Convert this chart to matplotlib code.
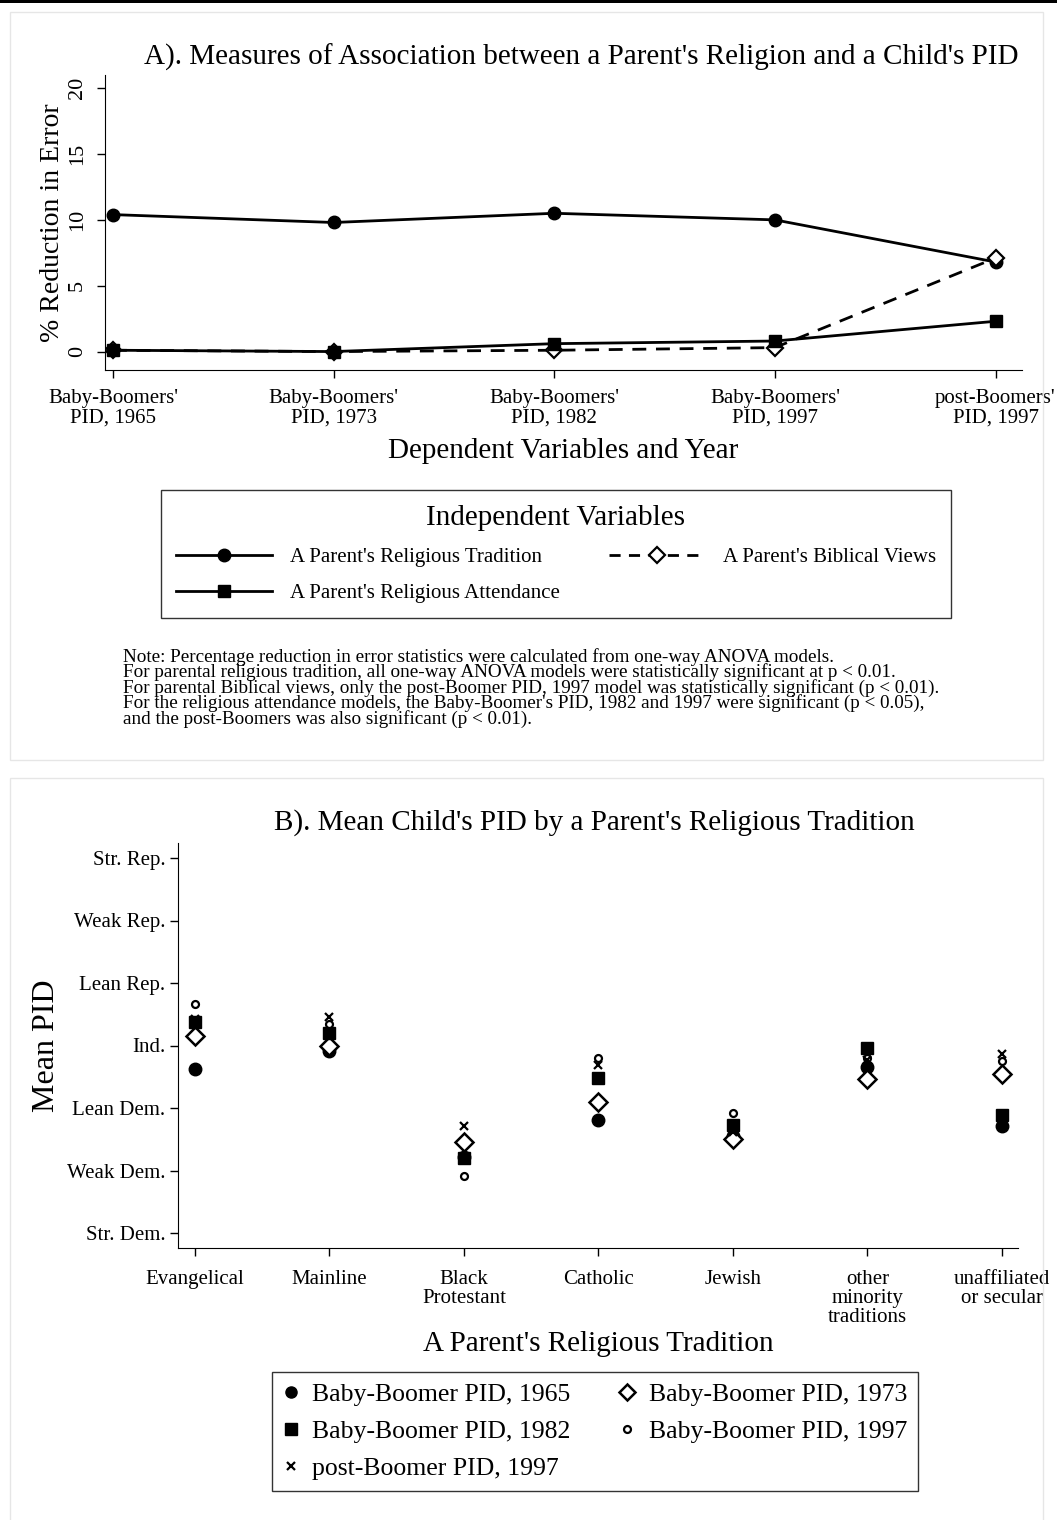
import matplotlib
matplotlib.use("Agg")
import matplotlib.pyplot as plt
from matplotlib.lines import Line2D
from matplotlib.patches import Rectangle

plt.rcParams['font.family'] = ['Liberation Serif', 'DejaVu Serif']

W, H = 1057, 1520

# ---- panel A data ----
dep_labels = ["Baby-Boomers'\nPID, 1965", "Baby-Boomers'\nPID, 1973", "Baby-Boomers'\nPID, 1982",
              "Baby-Boomers'\nPID, 1997", "post-Boomers'\nPID, 1997"]
tradition = [10.4, 9.8, 10.5, 10.0, 6.8]
attendance = [0.1, 0.0, 0.6, 0.8, 2.3]
biblical = [0.1, 0.0, 0.1, 0.3, 7.1]

# ---- panel B data ----
traditions = ["Evangelical", "Mainline", "Black\nProtestant", "Catholic", "Jewish",
              "other\nminority\ntraditions", "unaffiliated\nor secular"]
pid_labels = ["Str. Dem.", "Weak Dem.", "Lean Dem.", "Ind.", "Lean Rep.", "Weak Rep.", "Str. Rep."]
bb1965 = [2.63, 2.92, 1.22, 1.81, 1.56, 2.66, 1.71]
bb1973 = [3.15, 3.00, 1.46, 2.09, 1.51, 2.46, 2.55]
bb1982 = [3.38, 3.20, 1.20, 2.48, 1.73, 2.96, 1.89]
bb1997 = [3.66, 3.35, 0.91, 2.80, 1.92, 2.80, 2.75]
post1997 = [3.42, 3.46, 1.71, 2.69, 1.62, 2.77, 2.87]


def box(l, t, r, b):
    return [l / W, 1 - b / H, (r - l) / W, (b - t) / H]


fig = plt.figure(figsize=(W / 100, H / 100), dpi=100)
fig.patches.append(Rectangle((0, 1 - 3 / H), 1, 3 / H, transform=fig.transFigure,
                             facecolor='black', edgecolor='none'))
for t, b in [(12, 760), (778, 1530)]:
    l, bt, w, h = box(10, t, 1043, b)
    fig.patches.append(Rectangle((l, bt), w, h, transform=fig.transFigure,
                                 facecolor='none', edgecolor='#e6e6e6', lw=1))

# ================= Panel A =================
ax1 = fig.add_axes(box(105, 75, 1022, 370))
x = list(range(len(dep_labels)))
ax1.plot(x, tradition, '-o', color='black', lw=2, ms=9)
ax1.plot(x, biblical, '--D', color='black', lw=2, ms=8, mfc='white', mew=1.6,
         dashes=(5, 3.5))
ax1.plot(x, attendance, '-s', color='black', lw=2, ms=8)
ax1.set_xlim(-0.036, 4.12)
ax1.set_ylim(-1.4, 21.0)
ax1.set_yticks([0, 5, 10, 15, 20])
ax1.set_yticklabels(['0', '5', '10', '15', '20'], rotation=90, va='center', fontsize=16)
ax1.set_xticks(x)
ax1.set_xticklabels(dep_labels, fontsize=15, linespacing=0.98)
ax1.spines['top'].set_visible(False)
ax1.spines['right'].set_visible(False)
ax1.tick_params(length=6, width=1, color='black')
ax1.tick_params(axis='x', pad=8)
ax1.tick_params(axis='y', pad=7)
ax1.set_ylabel('% Reduction in Error', fontsize=20, labelpad=2)
ax1.set_xlabel('Dependent Variables and Year', fontsize=21, labelpad=8)
fig.text(581 / W, 1 - 57 / H,
         "A). Measures of Association between a Parent's Religion and a Child's PID",
         fontsize=21, ha='center', va='center')

handlesA = [Line2D([], [], color='black', lw=2, marker='o', ms=9),
            Line2D([], [], color='black', lw=2, marker='s', ms=8),
            Line2D([], [], color='black', lw=2, ls='--', dashes=(4, 3), marker='D', ms=8,
                   mfc='white', mew=1.6)]
labelsA = ["A Parent's Religious Tradition", "A Parent's Religious Attendance",
           "A Parent's Biblical Views"]
legA = fig.legend(handlesA, labelsA, loc='upper center', ncol=2,
                  bbox_to_anchor=(556 / W, 1 - 490 / H),
                  title='Independent Variables', title_fontsize=21, fontsize=15,
                  frameon=True, fancybox=False, edgecolor='black', handlelength=4.6,
                  handletextpad=0.86, columnspacing=2.4, borderaxespad=0,
                  labelspacing=0.8, borderpad=0.7)
legA.get_frame().set_linewidth(1)

note = ("Note: Percentage reduction in error statistics were calculated from one-way ANOVA models.\n"
        "For parental religious tradition, all one-way ANOVA models were statistically significant at p < 0.01.\n"
        "For parental Biblical views, only the post-Boomer PID, 1997 model was statistically significant (p < 0.01).\n"
        "For the religious attendance models, the Baby-Boomer's PID, 1982 and 1997 were significant (p < 0.05),\n"
        "and the post-Boomers was also significant (p < 0.01).")
fig.text(123 / W, 1 - 648 / H, note, fontsize=13.8, va='top', ha='left', linespacing=0.82)

# ================= Panel B =================
ax2 = fig.add_axes(box(178, 843, 1018, 1248))
xb = list(range(len(traditions)))
ax2.plot(xb, bb1965, 'o', color='black', ms=9, ls='none')
ax2.plot(xb, bb1973, 'D', color='black', ms=9, mfc='white', mew=1.8, ls='none')
ax2.plot(xb, bb1982, 's', color='black', ms=8, ls='none')
ax2.plot(xb, bb1997, 'o', color='black', ms=5, mfc='white', mew=1.6, ls='none')
ax2.plot(xb, post1997, 'x', color='black', ms=5.5, mew=1.6, ls='none')
ax2.set_xlim(-0.126, 6.12)
ax2.set_ylim(-0.24, 6.24)
ax2.set_yticks(range(7))
ax2.set_yticklabels(pid_labels, fontsize=15)
ax2.set_xticks(xb)
ax2.set_xticklabels(traditions, fontsize=15, linespacing=1.0, va='top')
ax2.spines['top'].set_visible(False)
ax2.spines['right'].set_visible(False)
ax2.tick_params(length=6, width=1, color='black', pad=3)
ax2.tick_params(axis='x', pad=9.5)
ax2.set_ylabel('Mean PID', fontsize=23, labelpad=4)
ax2.set_xlabel("A Parent's Religious Tradition", fontsize=21, labelpad=3)
fig.text(594 / W, 1 - 823 / H, "B). Mean Child's PID by a Parent's Religious Tradition",
         fontsize=21, ha='center', va='center')

handlesB = [Line2D([], [], color='black', marker='o', ms=8, ls='none'),
            Line2D([], [], color='black', marker='s', ms=8, ls='none'),
            Line2D([], [], color='black', marker='x', ms=5.5, mew=1.6, ls='none'),
            Line2D([], [], color='black', marker='D', ms=8, mfc='white', mew=1.8, ls='none'),
            Line2D([], [], color='black', marker='o', ms=5, mfc='white', mew=1.6, ls='none')]
labelsB = ["Baby-Boomer PID, 1965", "Baby-Boomer PID, 1982", "post-Boomer PID, 1997",
           "Baby-Boomer PID, 1973", "Baby-Boomer PID, 1997"]
legB = fig.legend(handlesB, labelsB, loc='upper left', ncol=2,
                  bbox_to_anchor=(272 / W, 1 - 1372 / H),
                  fontsize=18.5, frameon=True, fancybox=False, edgecolor='black',
                  handlelength=0.6, handletextpad=0.55, borderaxespad=0, labelspacing=0.55,
                  columnspacing=1.9, borderpad=0.42)
legB.get_frame().set_linewidth(1)

fig.savefig('out.png', dpi=100, facecolor='white')
